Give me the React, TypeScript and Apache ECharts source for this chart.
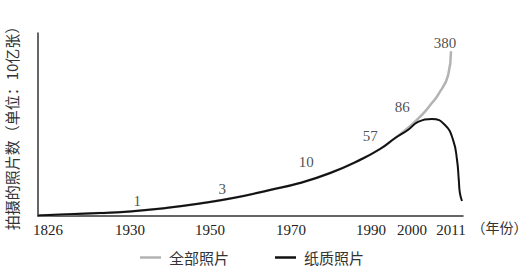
import React, { useEffect, useRef } from "react";
import * as echarts from "echarts";

// Axis tick years and their (compressed, non-linear) positions on the drawn axis
const YEAR_TICKS = [1826, 1930, 1950, 1970, 1990, 2000, 2011];
const TICK_POS = [0, 1.15, 2.15, 3.1625, 4.1625, 4.675, 5.1625];
const AXIS_MAX_POS = 5.3125;

// 全部照片 (schematic height, 0-100)
const ALL_YEARS = [1826, 1896, 1930, 1939, 1947.5, 1955.7, 1964.8, 1972.2, 1979.8, 1987.2, 1992.2, 1995.9, 1999.0, 2002.8, 2005.6, 2007.3, 2010.2, 2011];
const ALL_VALUES = [0.3, 1.6, 2.5, 4.4, 6.8, 9.8, 14.2, 18.0, 23.5, 30.6, 36.6, 42.6, 48.1, 55.2, 61.7, 66.1, 77.0, 90.0];

// 纸质照片
const PRINT_YEARS = [1826, 1896, 1930, 1939, 1947.5, 1955.7, 1964.8, 1972.2, 1979.8, 1987.2, 1992.2, 1995.9, 1999.0, 2001.7, 2005.6, 2009.3, 2011.6, 2012.7, 2013.2, 2013.5, 2014.1];
const PRINT_VALUES = [0.3, 1.6, 2.5, 4.4, 6.8, 9.8, 14.2, 18.0, 23.5, 30.6, 36.6, 42.6, 47.0, 51.4, 53.0, 49.7, 41.5, 30.6, 19.7, 12.6, 8.2];

// Annotations (十亿张)
const NOTE_TEXT = ["1", "3", "10", "57", "86", "380"];
const NOTE_YEARS = [1931.8, 1953, 1973.8, 1989.8, 1997.6, 2009.3];
const NOTE_HEIGHT = [8.2, 14.8, 29.5, 43.7, 59.6, 94.5];

const SERIES_NAMES = ["全部照片", "纸质照片"];

function yearToPos(y: number): number {
  let i = 0;
  while (i < YEAR_TICKS.length - 2 && y > YEAR_TICKS[i + 1]) i++;
  const y0 = YEAR_TICKS[i], y1 = YEAR_TICKS[i + 1];
  const p0 = TICK_POS[i], p1 = TICK_POS[i + 1];
  return p0 + ((y - y0) / (y1 - y0)) * (p1 - p0);
}

const SERIF = "'Liberation Serif', 'Times New Roman', serif";
const CJK = "'Noto Sans CJK SC', sans-serif";

export default function App() {
  const ref = useRef<HTMLDivElement>(null);
  useEffect(() => {
    if (!ref.current) return;
    const chart = echarts.init(ref.current, null, { renderer: "svg" });
    const allData = ALL_YEARS.map((y, i) => [yearToPos(y), ALL_VALUES[i]]);
    const printData = PRINT_YEARS.map((y, i) => [yearToPos(y), PRINT_VALUES[i]]);
    const noteData = NOTE_YEARS.map((y, i) => [yearToPos(y), NOTE_HEIGHT[i]]);
    chart.setOption({
      animation: false,
      backgroundColor: "#fff",
      grid: { left: 38, right: 65, top: 33, bottom: 55, outerBoundsMode: "none", containLabel: false },
      legend: {
        left: 135,
        top: 245,
        icon: "rect",
        itemWidth: 21,
        itemHeight: 2.5,
        itemGap: 46,
        data: SERIES_NAMES,
        textStyle: { fontFamily: CJK, fontSize: 15, color: "#333", padding: [0, 0, 0, 3] },
      },
      xAxis: {
        type: "value",
        min: 0,
        max: AXIS_MAX_POS,
        name: "（年份）",
        nameLocation: "end",
        nameGap: 3,
        nameTextStyle: { fontFamily: CJK, fontSize: 14, color: "#333", verticalAlign: "top", padding: [4, 0, 0, 0] },
        axisLine: { show: true, lineStyle: { color: "#333", width: 1.5 } },
        axisTick: { show: false },
        splitLine: { show: false },
        axisLabel: {
          customValues: TICK_POS,
          margin: 6,
          fontFamily: SERIF,
          fontSize: 15,
          color: "#222",
          hideOverlap: false,
          formatter: (v: number) => {
            const idx = TICK_POS.findIndex((p) => Math.abs(p - v) < 1e-6);
            if (idx < 0) return "";
            return idx === 0 ? "{first|" + YEAR_TICKS[0] + "}" : String(YEAR_TICKS[idx]);
          },
          rich: {
            first: { fontFamily: SERIF, fontSize: 15, color: "#222", padding: [0, 0, 0, 20] },
          },
        },
      },
      yAxis: {
        type: "value",
        min: 0,
        max: 100,
        name: "拍摄的照片数（单位：10亿张）",
        nameLocation: "middle",
        nameRotate: 90,
        nameGap: 19,
        nameTextStyle: { fontFamily: CJK, fontSize: 15, color: "#333" },
        axisLine: { show: true, lineStyle: { color: "#333", width: 1.5 } },
        axisTick: { show: false },
        axisLabel: { show: false },
        splitLine: { show: false },
      },
      series: [
        {
          name: SERIES_NAMES[0],
          type: "line",
          data: allData,
          symbol: "none",
          smooth: 0.5,
          lineStyle: { color: "#b3b3b3", width: 2.5 },
          itemStyle: { color: "#b3b3b3" },
          z: 2,
        },
        {
          name: SERIES_NAMES[1],
          type: "line",
          data: printData,
          symbol: "none",
          smooth: 0.5,
          lineStyle: { color: "#111", width: 2 },
          itemStyle: { color: "#111" },
          z: 3,
        },
        {
          type: "scatter",
          data: noteData,
          symbolSize: 1,
          itemStyle: { color: "rgba(0,0,0,0)" },
          silent: true,
          label: {
            show: true,
            position: "inside",
            fontFamily: SERIF,
            fontSize: 15,
            color: "#222",
            formatter: (p: any) => NOTE_TEXT[p.dataIndex],
          },
          z: 4,
        },
      ],
    });
    return () => chart.dispose();
  }, []);
  return <div ref={ref} style={{ position: "fixed", left: 0, top: 0, width: 528, height: 271 }} />;
}
